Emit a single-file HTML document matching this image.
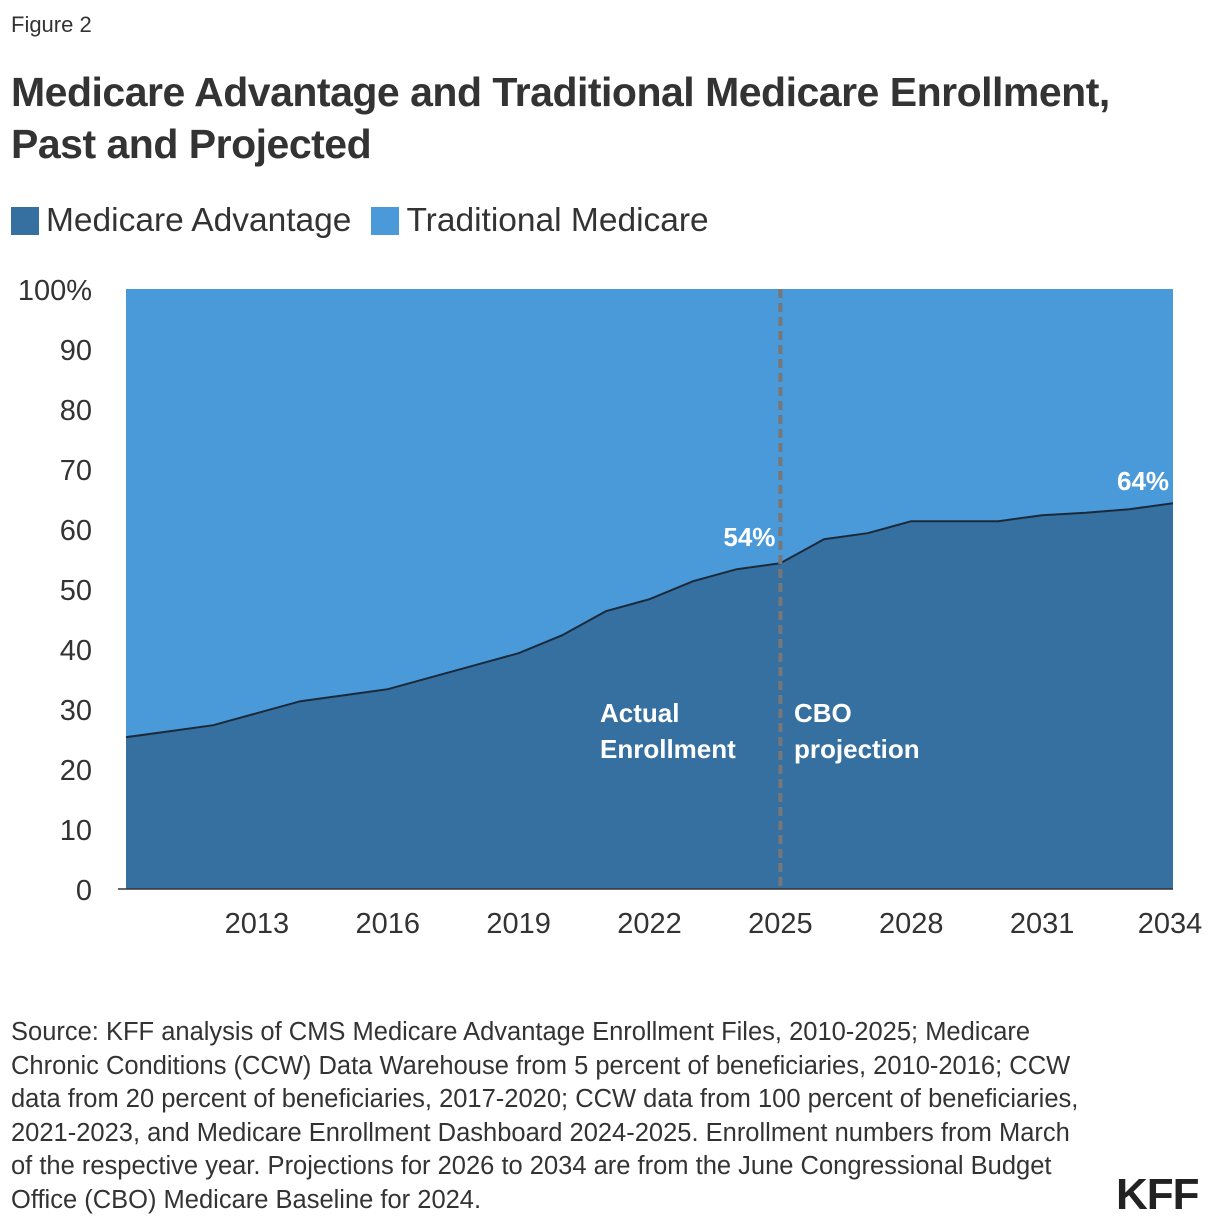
<!DOCTYPE html>
<html><head><meta charset="utf-8">
<style>
body{margin:0;background:#fff;width:1220px;height:1230px;overflow:hidden;font-family:"Liberation Sans",sans-serif;color:#333}
.fig{position:absolute;left:11px;top:12px;font-size:22px;color:#333}
.title{position:absolute;left:11px;top:66px;font-size:41px;font-weight:bold;line-height:52px;color:#333;letter-spacing:-0.5px;white-space:nowrap}
.legend{position:absolute;left:11px;top:202px;font-size:33.5px;color:#333;display:flex;align-items:center;white-space:nowrap}
.sw{display:inline-block;width:28px;height:28px;margin-right:7px}
.src{position:absolute;left:11px;top:1016px;font-size:25.5px;line-height:33.5px;color:#333;white-space:nowrap;letter-spacing:0px}
.kff{position:absolute;left:1116px;top:1170px;font-size:44px;font-weight:bold;color:#222;letter-spacing:-1px}
</style></head><body>
<div class="fig">Figure 2</div>
<div class="title">Medicare Advantage and Traditional Medicare Enrollment,<br>Past and Projected</div>
<div class="legend">
<span style="display:flex;align-items:center"><span class="sw" style="background:#3670a0"></span>Medicare Advantage</span>
<span style="display:flex;align-items:center;margin-left:20px"><span class="sw" style="background:#4a9ada"></span>Traditional Medicare</span>
</div>
<svg id="chart" width="1220" height="1000" style="position:absolute;left:0;top:0"></svg>
<div class="src">Source: KFF analysis of CMS Medicare Advantage Enrollment Files, 2010-2025; Medicare<br>Chronic Conditions (CCW) Data Warehouse from 5 percent of beneficiaries, 2010-2016; CCW<br>data from 20 percent of beneficiaries, 2017-2020; CCW data from 100 percent of beneficiaries,<br>2021-2023, and Medicare Enrollment Dashboard 2024-2025. Enrollment numbers from March<br>of the respective year. Projections for 2026 to 2034 are from the June Congressional Budget<br>Office (CBO) Medicare Baseline for 2024.</div>
<div class="kff">KFF</div>
<script>
const years=[2010,2011,2012,2013,2014,2015,2016,2017,2018,2019,2020,2021,2022,2023,2024,2025,2026,2027,2028,2029,2030,2031,2032,2033,2034];
const maShare=[25.3,26.3,27.3,29.3,31.3,32.3,33.3,35.3,37.3,39.3,42.3,46.3,48.3,51.3,53.3,54.3,58.3,59.3,61.3,61.3,61.3,62.3,62.7,63.3,64.3];
const yTicks=[0,10,20,30,40,50,60,70,80,90,100];
const xTicks=[2013,2016,2019,2022,2025,2028,2031,2034];
const ns="http://www.w3.org/2000/svg",svg=document.getElementById('chart');
const x0=126,x1=1173,y0=889,y1=289;
const X=y=>x0+(y-2010)/(2034-2010)*(x1-x0);
const Y=v=>y0-v/100*(y0-y1);
function el(t,a,txt){const e=document.createElementNS(ns,t);for(const k in a)e.setAttribute(k,a[k]);if(txt!=null)e.textContent=txt;svg.appendChild(e);return e;}
let r=el('rect',{x:x0,y:Y(100),width:x1-x0,height:Y(0)-Y(100),fill:'#4a9ada'});


let pts=years.map((y,i)=>X(y)+','+Y(maShare[i])).join(' L');
let a=el('path',{d:'M'+X(2010)+','+Y(0)+' L'+pts+' L'+X(2034)+','+Y(0)+' Z',fill:'#3670a0'});


let l=el('path',{d:'M'+pts,fill:'none',stroke:'#1b2a3a','stroke-width':2});


let ax=el('line',{x1:x0-8,x2:x1,y1:y0,y2:y0,stroke:'#333','stroke-width':1.5});


let dv=el('line',{x1:X(2025),x2:X(2025),y1:Y(100),y2:y0,stroke:'#777','stroke-width':4,'stroke-dasharray':'9,5'});


yTicks.forEach(v=>{const t=el('text',{x:92,y:Y(v)+11,'text-anchor':'end','font-size':29,fill:'#333','font-family':'Liberation Sans'},v===100?'100%':v);

});
xTicks.forEach(v=>{const t=el('text',{x:Math.min(X(v),1170),y:933,'text-anchor':'middle','font-size':29,fill:'#333','font-family':'Liberation Sans'},v);

});
function lab(x,y,s,n){const t=el('text',{x:x,y:y,'font-size':26,'font-weight':'bold',fill:'#fff','font-family':'Liberation Sans'},s);

return t;}
let i25=years.indexOf(2025),i34=years.indexOf(2034);
lab(X(2025)-57,Y(maShare[i25])-17,Math.round(maShare[i25])+'%','label-2025');
lab(X(2034)-56,Y(maShare[i34])-13,Math.round(maShare[i34])+'%','label-2034');
lab(600,722,'Actual','actual-label');lab(600,758,'Enrollment','actual-label-2');
lab(794,722,'CBO','cbo-label');lab(794,758,'projection','cbo-label-2');
</script>
</body></html>
